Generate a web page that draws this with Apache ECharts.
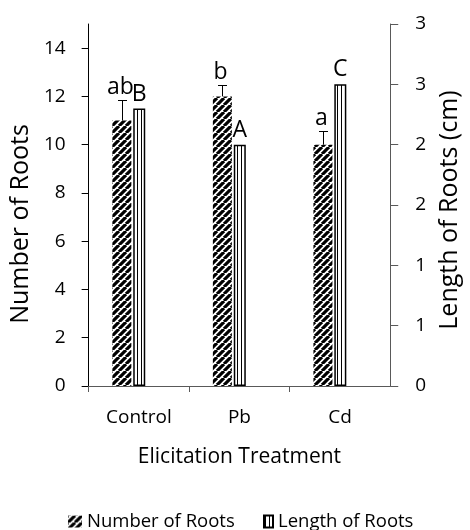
<!DOCTYPE html>
<html>
<head>
<meta charset="utf-8">
<script src="https://cdn.jsdelivr.net/npm/echarts@6/dist/echarts.min.js"></script>
<style>html,body{margin:0;padding:0;background:#fff}#c{width:470px;height:530px}</style>
</head>
<body>
<div id="c"></div>
<script>
// ---- data ----
var categories = ['Control', 'Pb', 'Cd'];
var numberOfRoots = [11, 12, 10];
var numberErr = [0.85, 0.47, 0.56];
var lengthOfRoots = [2.3, 2.0, 2.5];
var numberLetters = ['ab', 'b', 'a'];
var lengthLetters = ['B', 'A', 'C'];
var leftTicks = [0, 2, 4, 6, 8, 10, 12, 14];
var rightTicks = [0, 0.5, 1, 1.5, 2, 2.5, 3];

var FONT = '"Open Sans", sans-serif';

function makeHatch() {
  var s = 7, c = document.createElement('canvas');
  c.width = s; c.height = s;
  var g = c.getContext('2d');
  g.fillStyle = '#fff'; g.fillRect(0, 0, s, s);
  g.strokeStyle = '#000'; g.lineWidth = 3.2;
  g.beginPath();
  [-s, 0, s].forEach(function (k) { g.moveTo(k, s); g.lineTo(k + s, 0); });
  g.stroke();
  return c;
}
function makeStripes() {
  var c = document.createElement('canvas');
  c.width = 4; c.height = 4;
  var g = c.getContext('2d');
  g.fillStyle = '#fff'; g.fillRect(0, 0, 4, 4);
  g.fillStyle = '#000'; g.fillRect(0, 0, 1, 4);
  return c;
}
var hatch = { image: makeHatch(), repeat: 'repeat' };
var stripes = { image: makeStripes(), repeat: 'repeat', x: 1 };

var BAR_OFFSET = -17; // centre of the first bar within its category group

var errData = numberOfRoots.map(function (v, i) { return [i, v, numberErr[i]]; });

var chart = echarts.init(document.getElementById('c'), null, { renderer: 'canvas' });
chart.setOption({
  animation: false,
  textStyle: { fontFamily: FONT, color: '#000' },
  grid: { left: 87, right: 71, top: 24, bottom: 144 },
  legend: [
    { data: ['Number of Roots'], left: 68, top: 512, padding: 0, icon: 'rect', itemWidth: 14, itemHeight: 12,
      textStyle: { fontSize: 18.5, color: '#000', fontFamily: FONT } },
    { data: ['Length of Roots'], left: 263, top: 512, padding: 0, icon: 'rect', itemWidth: 9, itemHeight: 12,
      textStyle: { fontSize: 18.5, color: '#000', fontFamily: FONT } }
  ],
  xAxis: {
    type: 'category', data: categories,
    name: 'Elicitation Treatment', nameLocation: 'middle', nameGap: 61,
    nameTextStyle: { fontSize: 21, color: '#000', fontFamily: FONT },
    axisLine: { lineStyle: { color: '#595959', width: 1 } },
    axisTick: { show: true, length: 6, lineStyle: { color: '#595959' } },
    axisLabel: { fontSize: 19, color: '#000', margin: 22, fontFamily: FONT }
  },
  yAxis: [
    {
      type: 'value', min: 0, max: 15, position: 'left',
      name: 'Number of Roots', nameLocation: 'middle', nameGap: 53, nameRotate: 90,
      nameTextStyle: { fontSize: 25, color: '#000', fontFamily: FONT, padding: [0, 38, 0, 0] },
      axisLine: { show: true, lineStyle: { color: '#000', width: 1 } },
      axisTick: { show: true, length: 7, customValues: leftTicks, lineStyle: { color: '#000' } },
      axisLabel: { fontSize: 19, color: '#000', margin: 23, customValues: leftTicks, fontFamily: FONT },
      splitLine: { show: false }
    },
    {
      type: 'value', min: 0, max: 3, interval: 0.5, position: 'right',
      name: 'Length of Roots (cm)', nameLocation: 'middle', nameGap: 45, nameRotate: 90,
      nameTextStyle: { fontSize: 25, color: '#000', fontFamily: FONT, padding: [0, 10, 0, 0] },
      axisLine: { show: true, lineStyle: { color: '#595959', width: 1 } },
      axisTick: { show: true, length: 8, lineStyle: { color: '#595959' } },
      axisLabel: { fontSize: 19, color: '#000', margin: 25, fontFamily: FONT,
        formatter: function (v) { return String(Math.round(v)); } },
      splitLine: { show: false }
    }
  ],
  series: [
    {
      name: 'Number of Roots', type: 'bar', yAxisIndex: 0, data: numberOfRoots,
      barWidth: 19, barGap: '10%',
      itemStyle: { color: hatch, borderWidth: 0 }
    },
    {
      name: 'Length of Roots', type: 'bar', yAxisIndex: 1, data: lengthOfRoots,
      barWidth: 12, barGap: '10%',
      itemStyle: { color: stripes, borderColor: '#000', borderWidth: 1.5 },
      label: { show: true, position: 'top', distance: 3, fontSize: 23, color: '#000', fontFamily: FONT,
        formatter: function (p) { return lengthLetters[p.dataIndex]; } }
    },
    {
      name: 'spacer', type: 'bar', yAxisIndex: 0, data: [null, null, null],
      barWidth: 19, barGap: '10%', silent: true
    },
    {
      name: 'err', type: 'custom', yAxisIndex: 0, data: errData, z: 5,
      encode: { x: 0, y: 1 },
      renderItem: function (params, api) {
        var idx = api.value(0), v = api.value(1), e = api.value(2);
        var base = api.coord([idx, v]);
        var top = api.coord([idx, v + e]);
        var x = Math.round(base[0] + BAR_OFFSET) + 0.5;
        var ty = Math.round(top[1]) + 0.5;
        return {
          type: 'group',
          children: [
            { type: 'line', shape: { x1: x, y1: base[1], x2: x, y2: ty }, style: { stroke: '#000', lineWidth: 1 } },
            { type: 'line', shape: { x1: x - 4.5, y1: ty, x2: x + 4.5, y2: ty }, style: { stroke: '#000', lineWidth: 1 } },
            { type: 'text', x: x - 2, y: ty - 2,
              style: { text: numberLetters[idx], fill: '#000', fontSize: 23, fontFamily: FONT, align: 'center', verticalAlign: 'bottom' } }
          ]
        };
      }
    }
  ]
});
</script>
</body>
</html>
